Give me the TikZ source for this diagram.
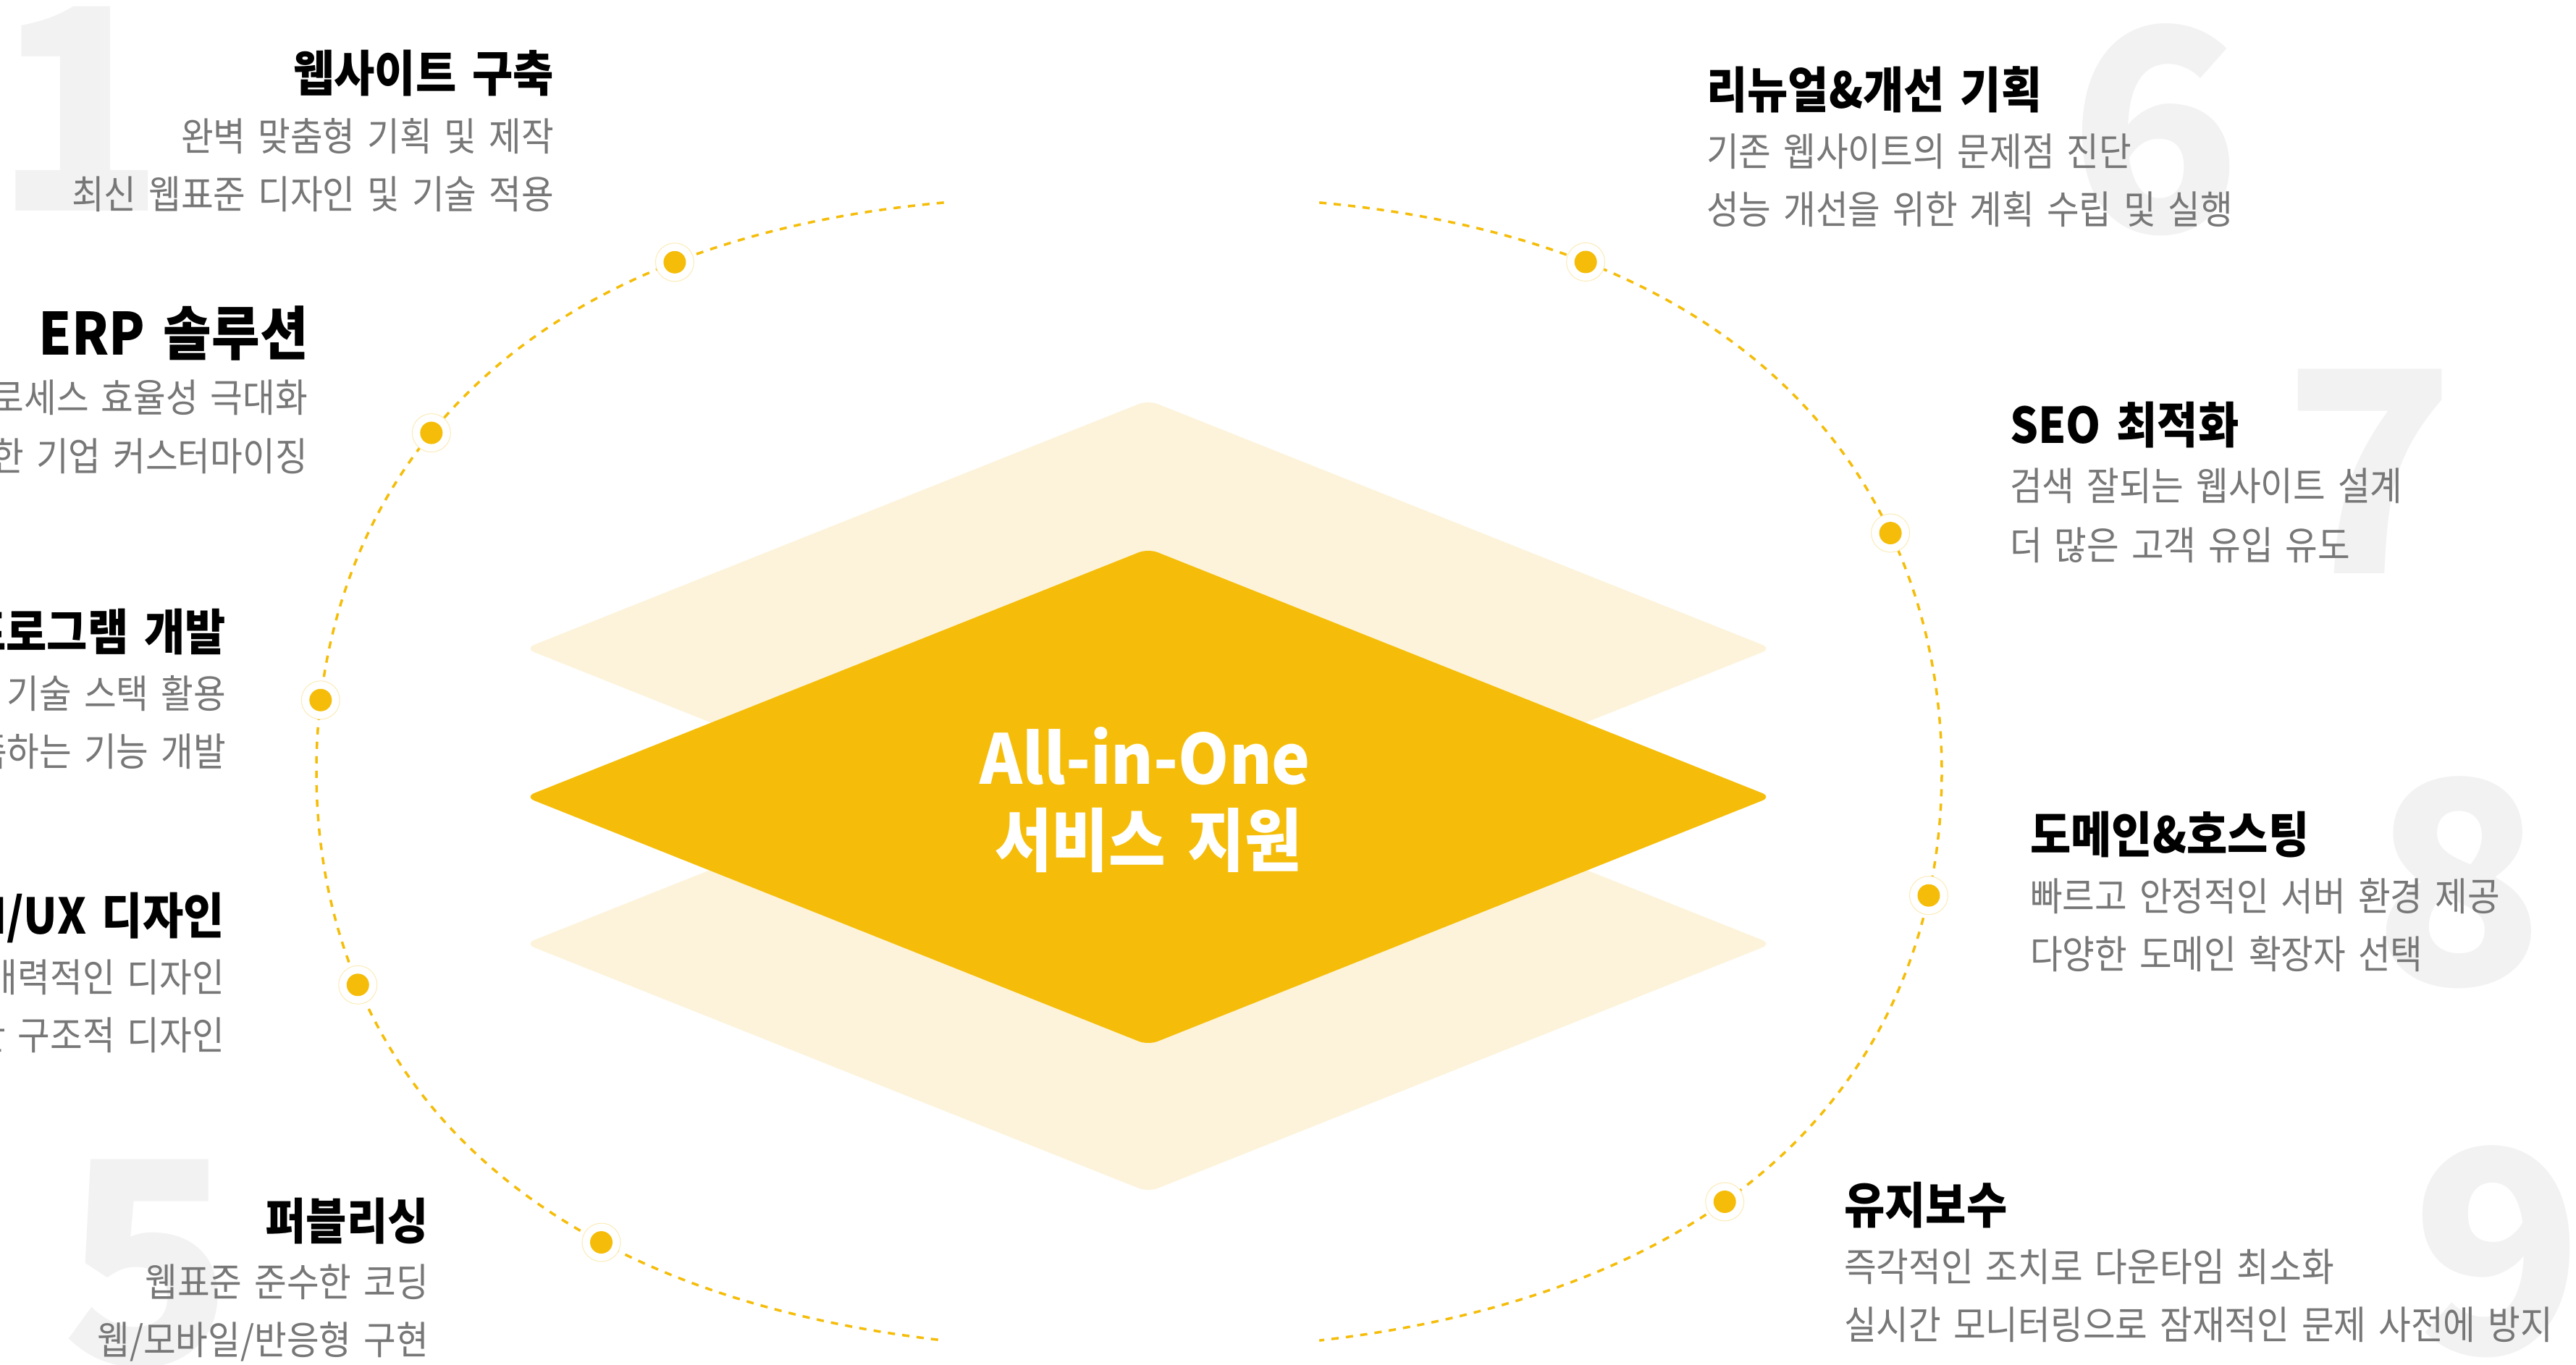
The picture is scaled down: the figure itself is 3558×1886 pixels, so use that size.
\documentclass[tikz,border=0pt]{standalone}
\usepackage{fontspec}
\newfontfamily\kr[FakeStretch=0.90,WordSpace=1.55]{Noto Sans CJK KR}
\newfontfamily\krc[FakeStretch=0.94]{Noto Sans CJK KR}
\newfontfamily\krw{Noto Sans CJK KR}
\definecolor{ylw}{HTML}{F5BD09}
\definecolor{lyl}{HTML}{FDF3DA}
\definecolor{subg}{HTML}{777777}
\definecolor{numg}{HTML}{F2F2F2}
\definecolor{ringc}{HTML}{FCEBB6}
\tikzset{
  ttl/.style={font=\kr\bfseries\fontsize{68}{68}\selectfont, text=black, inner sep=0pt},
  bigttl/.style={font=\kr\bfseries\fontsize{80.5}{80}\selectfont, text=black, inner sep=0pt},
  sub/.style={font=\kr\fontsize{54}{54}\selectfont, text=subg, inner sep=0pt},
  bignum/.style={font=\krw\bfseries\fontsize{389}{389}\selectfont, text=numg, inner sep=0pt, anchor=base},
  arcline/.style={draw=ylw, line width=3.5pt, dash pattern=on 10pt off 10pt},
  dotring/.style={circle, fill=white, draw=ringc, line width=1pt, minimum size=53pt, inner sep=0pt},
  dotcore/.style={circle, fill=ylw, minimum size=31pt, inner sep=0pt},
  diam/.style={rounded corners=14pt},
  ctext/.style={text=white, inner sep=0pt, anchor=base},
}
\begin{document}
\begin{tikzpicture}[x=1pt,y=-1pt]
\useasboundingbox (0,0) rectangle (3558,1886);
\clip (0,0) rectangle (3558,1886);
\fill[white] (0,0) rectangle (3558,1886);

% big faint numbers
\node[bignum] (n1) at (110,292) {1};
\node[bignum] (n5) at (204,1884) {5};
\node[bignum] (n6) at (2977,320) {6};
\node[bignum] (n7) at (3273,792) {7};
\node[bignum] (n8) at (3396,1360) {8};
\node[bignum] (n9) at (3450,1870) {9};

% layered diamonds
\fill[lyl, diam] (1586,553) -- (2447,896) -- (1586,1239) -- (725,896) -- cycle;
\fill[lyl, diam] (1586,961) -- (2447,1304) -- (1586,1647) -- (725,1304) -- cycle;
\fill[ylw, diam] (1586,758) -- (2447,1101) -- (1586,1444) -- (725,1101) -- cycle;

\node[ctext, font=\krc\bfseries\fontsize{95}{95}\selectfont] (c1) at (1582,1083) {All-in-One};
\node[ctext, font=\kr\bfseries\fontsize{95}{95}\selectfont] (c2) at (1586,1196) {서비스 지원};

% dashed orbit (two arcs)
\coordinate (lt) at (1303.7,279.9);
\coordinate (lc1) at (643.2,340);
\coordinate (lc2) at (437,723.5);
\coordinate (lm) at (437,1066);
\coordinate (lc3) at (437,1408.5);
\coordinate (lc4) at (643.2,1776.5);
\coordinate (lb) at (1303.7,1852.1);
\coordinate (rt) at (1822.2,279.9);
\coordinate (rc1) at (2477.5,340);
\coordinate (rc2) at (2682,723.5);
\coordinate (rm) at (2682,1066);
\coordinate (rc3) at (2682,1408.5);
\coordinate (rc4) at (2477.5,1776.5);
\coordinate (rb) at (1822.2,1852.1);

\draw[arcline] (lt) .. controls (lc1) and (lc2) .. (lm) .. controls (lc3) and (lc4) .. (lb);
\draw[arcline] (rt) .. controls (rc1) and (rc2) .. (rm) .. controls (rc3) and (rc4) .. (rb);

% dots on the orbit
\path (lt) .. controls (lc1) and (lc2) .. (lm)
  node[dotring, pos=0.2194] (r1) {}
  node[dotring, pos=0.5348] (r2) {}
  node[dotring, pos=0.9047] (r3) {};
\path (lm) .. controls (lc3) and (lc4) .. (lb)
  node[dotring, pos=0.2881] (r4) {}
  node[dotring, pos=0.7043] (r5) {};
\path (rt) .. controls (rc1) and (rc2) .. (rm)
  node[dotring, pos=0.2188] (r6) {}
  node[dotring, pos=0.68] (r7) {};
\path (rm) .. controls (rc3) and (rc4) .. (rb)
  node[dotring, pos=0.166] (r8) {}
  node[dotring, pos=0.625] (r9) {};
\foreach \nm in {1,...,9}{ \node[dotcore] (d\nm) at (r\nm) {}; }

% left items
\node[ttl, anchor=base east] (t1) at (765,127) {웹사이트 구축};
\node[sub, anchor=base east] (s1a) at (765,209) {완벽 맞춤형 기획 및 제작};
\node[sub, anchor=base east] (s1b) at (765,289) {최신 웹표준 디자인 및 기술 적용};

\node[bigttl, anchor=base east] (t2) at (426,490) {ERP 솔루션};
\node[sub, anchor=base east] (s2a) at (425,569) {프로세스 효율성 극대화};
\node[sub, anchor=base east] (s2b) at (425,650) {한 기업 커스터마이징};

\node[ttl, anchor=base east] (t3) at (312,898) {프로그램 개발};
\node[sub, anchor=base east] (s3a) at (312,978) {기술 스택 활용};
\node[sub, anchor=base east] (s3b) at (312,1058) {족하는 기능 개발};

\node[ttl, anchor=base east] (t4) at (310,1290) {UI/UX 디자인};
\node[sub, anchor=base east] (s4a) at (310,1370) {매력적인 디자인};
\node[sub, anchor=base east] (s4b) at (310,1450) {한 구조적 디자인};

\node[ttl, anchor=base east] (t5) at (592,1712) {퍼블리싱};
\node[sub, anchor=base east] (s5a) at (592,1791) {웹표준 준수한 코딩};
\node[sub, anchor=base east] (s5b) at (592,1871) {웹/모바일/반응형 구현};

% right items
\node[ttl, anchor=base west] (t6) at (2357,150) {리뉴얼\&개선 기획};
\node[sub, anchor=base west] (s6a) at (2357,230) {기존 웹사이트의 문제점 진단};
\node[sub, anchor=base west] (s6b) at (2357,310) {성능 개선을 위한 계획 수립 및 실행};

\node[ttl, anchor=base west] (t7) at (2776,612) {SEO 최적화};
\node[sub, anchor=base west] (s7a) at (2776,691) {검색 잘되는 웹사이트 설계};
\node[sub, anchor=base west] (s7b) at (2776,773) {더 많은 고객 유입 유도};

\node[ttl, anchor=base west] (t8) at (2804,1178) {도메인\&호스팅};
\node[sub, anchor=base west] (s8a) at (2804,1258) {빠르고 안정적인 서버 환경 제공};
\node[sub, anchor=base west] (s8b) at (2804,1338) {다양한 도메인 확장자 선택};

\node[ttl, anchor=base west] (t9) at (2547,1690) {유지보수};
\node[sub, anchor=base west] (s9a) at (2547,1770) {즉각적인 조치로 다운타임 최소화};
\node[sub, anchor=base west] (s9b) at (2547,1850) {실시간 모니터링으로 잠재적인 문제 사전에 방지};
\end{tikzpicture}
\end{document}
